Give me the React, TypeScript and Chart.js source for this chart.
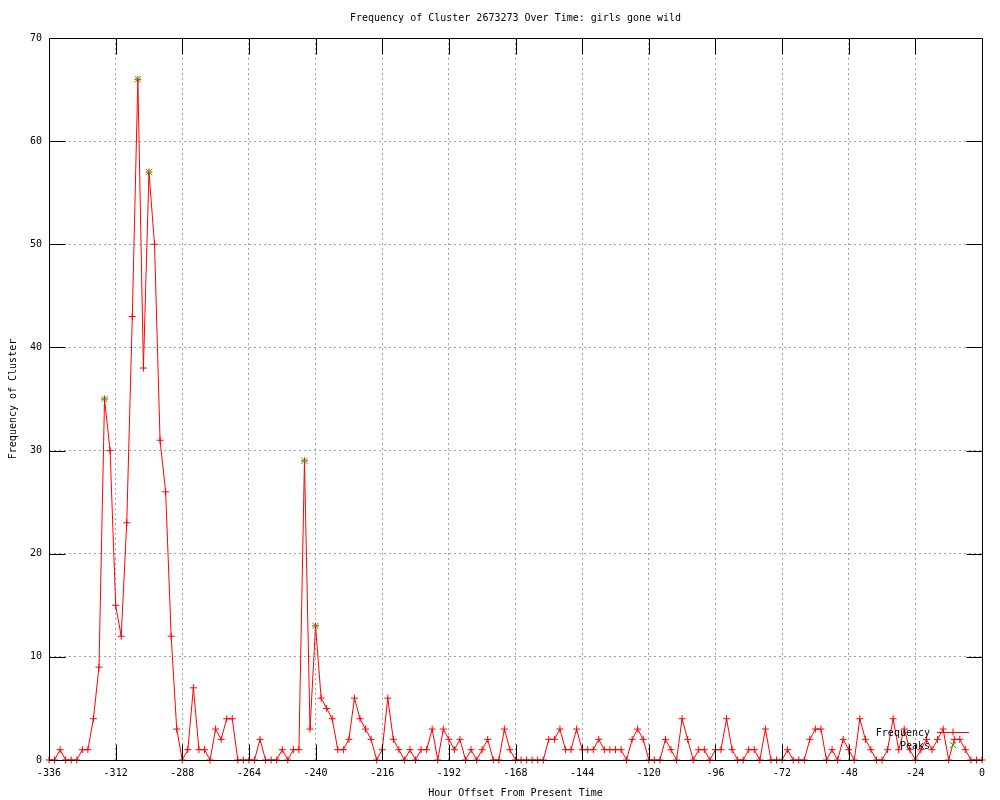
import React, { useEffect, useRef } from 'react';
import { Chart, registerables } from 'chart.js';

Chart.register(...registerables);

const titleText = 'Frequency of Cluster 2673273 Over Time: girls gone wild';
const xTitle = 'Hour Offset From Present Time';
const yTitle = 'Frequency of Cluster';
const seriesNames = ['Frequency', 'Peaks'];

const xMin = -336;
const xMax = 0;
const xStep = 24;
const yMin = 0;
const yMax = 70;
const yStep = 10;

const hours = [
  -336, -334, -332, -330, -328, -326, -324, -322, -320, -318,
  -316, -314, -312, -310, -308, -306, -304, -302, -300, -298,
  -296, -294, -292, -290, -288, -286, -284, -282, -280, -278,
  -276, -274, -272, -270, -268, -266, -264, -262, -260, -258,
  -256, -254, -252, -250, -248, -246, -244, -242, -240, -238,
  -236, -234, -232, -230, -228, -226, -224, -222, -220, -218,
  -216, -214, -212, -210, -208, -206, -204, -202, -200, -198,
  -196, -194, -192, -190, -188, -186, -184, -182, -180, -178,
  -176, -174, -172, -170, -168, -166, -164, -162, -160, -158,
  -156, -154, -152, -150, -148, -146, -144, -142, -140, -138,
  -136, -134, -132, -130, -128, -126, -124, -122, -120, -118,
  -116, -114, -112, -110, -108, -106, -104, -102, -100, -98,
  -96, -94, -92, -90, -88, -86, -84, -82, -80, -78,
  -76, -74, -72, -70, -68, -66, -64, -62, -60, -58,
  -56, -54, -52, -50, -48, -46, -44, -42, -40, -38,
  -36, -34, -32, -30, -28, -26, -24, -22, -20, -18,
  -16, -14, -12, -10, -8, -6, -4, -2, 0,
];

const frequency = [
  0, 0, 1, 0, 0, 0, 1, 1, 4, 9,
  35, 30, 15, 12, 23, 43, 66, 38, 57, 50,
  31, 26, 12, 3, 0, 1, 7, 1, 1, 0,
  3, 2, 4, 4, 0, 0, 0, 0, 2, 0,
  0, 0, 1, 0, 1, 1, 29, 3, 13, 6,
  5, 4, 1, 1, 2, 6, 4, 3, 2, 0,
  1, 6, 2, 1, 0, 1, 0, 1, 1, 3,
  0, 3, 2, 1, 2, 0, 1, 0, 1, 2,
  0, 0, 3, 1, 0, 0, 0, 0, 0, 0,
  2, 2, 3, 1, 1, 3, 1, 1, 1, 2,
  1, 1, 1, 1, 0, 2, 3, 2, 0, 0,
  0, 2, 1, 0, 4, 2, 0, 1, 1, 0,
  1, 1, 4, 1, 0, 0, 1, 1, 0, 3,
  0, 0, 0, 1, 0, 0, 0, 2, 3, 3,
  0, 1, 0, 2, 1, 0, 4, 2, 1, 0,
  0, 1, 4, 1, 3, 1, 0, 1, 2, 1,
  2, 3, 0, 2, 2, 1, 0, 0, 0,
];

const peakHours = [-316, -304, -300, -244, -240];
const peakValues = [35, 66, 57, 29, 13];

const FONT = '"DejaVu Sans Mono", "Liberation Mono", monospace';
const RED = '#ff0000';
const GREEN = '#00c000';

const framePlugin = {
  id: 'gnuplotFrame',
  afterDatasetsDraw(chart: any) {
    const { ctx, chartArea: a, scales } = chart;
    const xs = scales.x;
    const ys = scales.y;
    const L = Math.round(a.left) + 0.5;
    const R = Math.round(a.right) + 0.5;
    const T = Math.round(a.top) + 0.5;
    const B = Math.round(a.bottom) + 0.5;
    const len = 16;
    ctx.save();
    ctx.strokeStyle = '#000';
    ctx.lineWidth = 1;
    ctx.setLineDash([]);
    ctx.beginPath();
    ctx.rect(L, T, R - L, B - T);
    xs.ticks.forEach((t: any) => {
      if (t.value === xMin || t.value === xMax) return;
      const px = Math.round(xs.getPixelForValue(t.value)) + 0.5;
      ctx.moveTo(px, B);
      ctx.lineTo(px, B - len);
      ctx.moveTo(px, T);
      ctx.lineTo(px, T + len);
    });
    ys.ticks.forEach((t: any) => {
      if (t.value === yMin || t.value === yMax) return;
      const py = Math.round(ys.getPixelForValue(t.value)) + 0.5;
      ctx.moveTo(L, py);
      ctx.lineTo(L + len, py);
      ctx.moveTo(R, py);
      ctx.lineTo(R - len, py);
    });
    ctx.stroke();

    // key (legend), gnuplot style: text right-aligned, sample to its right
    const textRight = a.right - 52;
    const sampleL = a.right - 45;
    const sampleR = a.right - 13;
    const sampleMid = (sampleL + sampleR) / 2;
    const row1 = a.bottom - 28;
    const row2 = a.bottom - 15;
    ctx.fillStyle = '#000';
    ctx.font = `10px ${FONT}`;
    ctx.textAlign = 'right';
    ctx.textBaseline = 'middle';
    ctx.fillText(seriesNames[0], textRight, row1 + 1);
    ctx.fillText(seriesNames[1], textRight, row2 + 1);

    ctx.strokeStyle = RED;
    ctx.beginPath();
    ctx.moveTo(sampleL, Math.round(row1) + 0.5);
    ctx.lineTo(sampleR, Math.round(row1) + 0.5);
    ctx.moveTo(sampleMid, row1 - 3.5);
    ctx.lineTo(sampleMid, row1 + 3.5);
    ctx.stroke();

    ctx.strokeStyle = GREEN;
    ctx.beginPath();
    const d = 3.2;
    ctx.moveTo(sampleMid - d, row2 - d);
    ctx.lineTo(sampleMid + d, row2 + d);
    ctx.moveTo(sampleMid - d, row2 + d);
    ctx.lineTo(sampleMid + d, row2 - d);
    ctx.stroke();
    ctx.restore();
  },
};

export default function App() {
  const canvasRef = useRef<HTMLCanvasElement | null>(null);

  useEffect(() => {
    const canvas = canvasRef.current;
    if (!canvas) return;
    const font = { family: FONT, size: 10, weight: 'normal' as const, lineHeight: 1.2 };
    const chart = new Chart(canvas, {
      type: 'line',
      data: {
        datasets: [
          {
            label: seriesNames[1],
            data: peakHours.map((h, i) => ({ x: h, y: peakValues[i] })),
            showLine: false,
            pointStyle: 'crossRot',
            pointRadius: 4.5,
            pointBorderColor: GREEN,
            pointBackgroundColor: GREEN,
            pointBorderWidth: 1,
            borderColor: GREEN,
            order: 1,
            clip: false as any,
          },
          {
            label: seriesNames[0],
            data: hours.map((h, i) => ({ x: h, y: frequency[i] })),
            borderColor: RED,
            borderWidth: 1,
            tension: 0,
            fill: false,
            pointStyle: 'cross',
            pointRadius: 3.5,
            pointBorderColor: RED,
            pointBackgroundColor: RED,
            pointBorderWidth: 1,
            order: 2,
            clip: false as any,
          },
        ],
      },
      options: {
        responsive: false,
        animation: false,
        events: [],
        layout: { padding: { left: 0, right: 18, top: 0, bottom: 0 } },
        plugins: {
          legend: { display: false },
          tooltip: { enabled: false },
          title: {
            display: true,
            text: titleText,
            fullSize: false,
            color: '#000',
            font,
            padding: { top: 12, bottom: 14 },
          },
        },
        scales: {
          x: {
            type: 'linear',
            min: xMin,
            max: xMax,
            afterFit: (s: any) => {
              s.height = 40;
            },
            ticks: {
              stepSize: xStep,
              autoSkip: false,
              maxRotation: 0,
              minRotation: 0,
              color: '#000',
              font,
              padding: 7,
              callback: (v: any) => String(v),
            },
            grid: { color: '#a0a0a0', lineWidth: 1, drawTicks: false },
            border: { display: false, dash: [2, 3] },
            title: {
              display: true,
              text: xTitle,
              color: '#000',
              font,
              padding: { top: 0, bottom: 1 },
            },
          },
          y: {
            type: 'linear',
            min: yMin,
            max: yMax,
            afterFit: (s: any) => {
              s.width = 49;
            },
            ticks: {
              stepSize: yStep,
              color: '#000',
              font,
              padding: 7,
              callback: (v: any) => String(v),
            },
            grid: { color: '#a0a0a0', lineWidth: 1, drawTicks: false },
            border: { display: false, dash: [2, 3] },
            title: {
              display: true,
              text: yTitle,
              color: '#000',
              font,
              padding: { top: 7, bottom: 0 },
            },
          },
        },
      },
      plugins: [framePlugin],
    } as any);
    return () => chart.destroy();
  }, []);

  return (
    <div style={{ position: 'absolute', left: 0, top: 0, width: 1000, height: 800, background: '#fff' }}>
      <canvas ref={canvasRef} width={1000} height={800} style={{ display: 'block' }} />
    </div>
  );
}
